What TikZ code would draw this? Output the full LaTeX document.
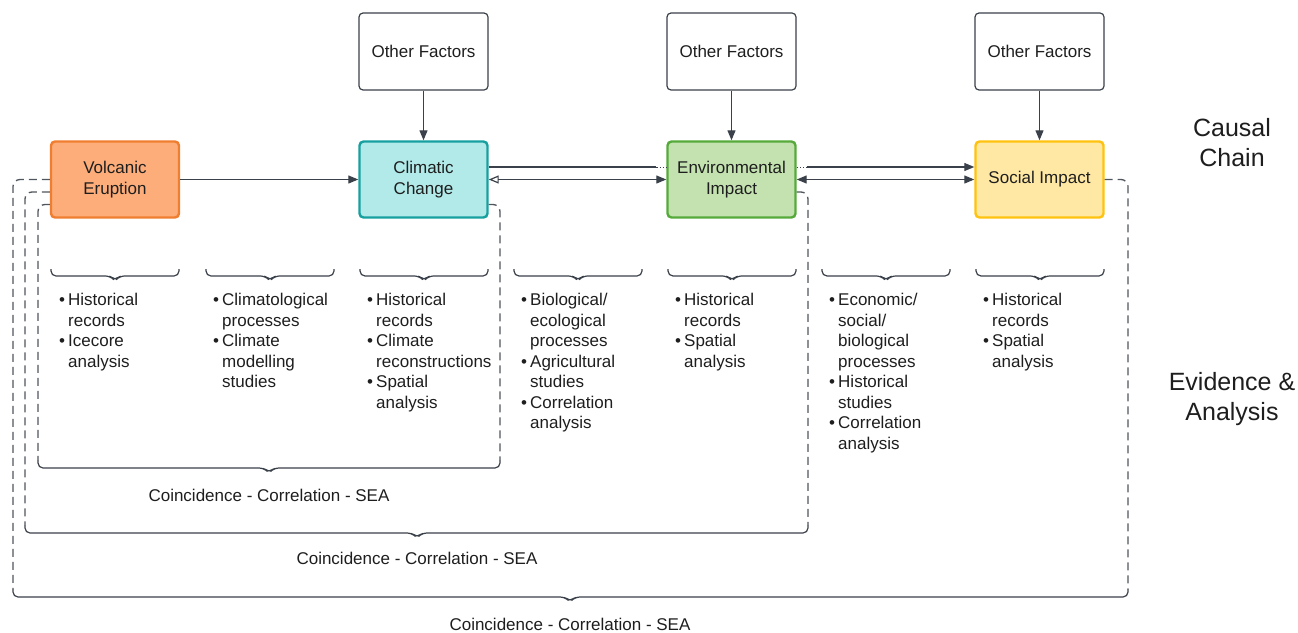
\documentclass[tikz,border=0pt]{standalone}
\usepackage{fontspec}
\setmainfont{Liberation Sans}
\usetikzlibrary{arrows.meta}
\definecolor{ln}{HTML}{3A414A}
\definecolor{dl}{HTML}{50565D}
\definecolor{txt}{HTML}{1E1E1E}
\definecolor{veF}{HTML}{FCAD79}\definecolor{veD}{HTML}{F07E30}
\definecolor{ccF}{HTML}{B2E9E9}\definecolor{ccD}{HTML}{17A0A0}
\definecolor{enF}{HTML}{C3E2B0}\definecolor{enD}{HTML}{55AA3A}
\definecolor{soF}{HTML}{FFE8A3}\definecolor{soD}{HTML}{FFC20E}
\newcommand\bl{\hspace*{-1pt}\makebox[9pt][l]{\textbullet}}
\newcommand\ci{\hspace*{8pt}}
\begin{document}
\begin{tikzpicture}[x=1pt,y=-1pt,
  every node/.style={font=\fontsize{17}{20.5}\selectfont, text=txt},
  box/.style={draw, rounded corners=4pt, minimum width=128pt, minimum height=76pt, line width=2.4pt, align=center, inner sep=0pt},
  ofbox/.style={draw=ln, rounded corners=4pt, minimum width=129pt, minimum height=77pt, line width=1.2pt, align=center, inner sep=0pt},
  conn/.style={draw=ln, line width=1.2pt},
  arr/.style={conn, -{Triangle[length=10pt,width=8pt]}},
  dsh/.style={draw=dl, line width=1.3pt, dash pattern=on 8pt off 5pt, rounded corners=7pt},
  brc/.style={draw=ln, line width=1.2pt, rounded corners=5pt},
  lst/.style={anchor=north west, align=left, inner sep=0pt},
  big/.style={font=\fontsize{25}{30}\selectfont, align=center}
]
\useasboundingbox (0,0) rectangle (1298,632);

% main boxes
\node[box, draw=veD, fill=veF] (ve) at (115,179.5) {Volcanic\\Eruption};
\node[box, draw=ccD, fill=ccF] (cc) at (423.5,179.5) {Climatic\\Change};
\node[box, draw=enD, fill=enF] (en) at (731.5,179.5) {Environmental\\Impact};
\node[box, draw=soD, fill=soF] (so) at (1039.5,179.5) {Social Impact};

% other factors
\node[ofbox] (of1) at (423.5,51.5) {Other Factors};
\node[ofbox] (of2) at (731.5,51.5) {Other Factors};
\node[ofbox] (of3) at (1039.5,51.5) {Other Factors};
\draw[arr] (of1) -- (cc);
\draw[arr] (of2) -- (en);
\draw[arr] (of3) -- (so);

% causal arrows
\draw[arr] (ve) -- (cc);
\draw[conn] ([yshift=12.5pt]cc.east) -- ([xshift=-10pt,yshift=12.5pt]en.west);
\draw[conn, dotted, line width=0.8pt] ([xshift=-10pt,yshift=12.5pt]en.west) -- ([yshift=12.5pt]en.west);
\draw[conn, {Triangle[open,length=10pt,width=8pt]}-{Triangle[length=10pt,width=8pt]}] (cc) -- (en);
\draw[conn, dotted, line width=0.8pt] ([yshift=12.5pt]en.east) -- ([xshift=10pt,yshift=12.5pt]en.east);
\draw[arr] ([xshift=10pt,yshift=12.5pt]en.east) -- ([yshift=12.5pt]so.west);
\draw[conn, {Triangle[length=10pt,width=8pt]}-{Triangle[length=10pt,width=8pt]}] (en) -- (so);

% dashed brackets
\coordinate (bL1) at (13,589);  \coordinate (bR1) at (1128,589);
\coordinate (bL2) at (25,525);  \coordinate (bR2) at (808,525);
\coordinate (bL3) at (38,460);  \coordinate (bR3) at (500,460);
\draw[dsh] (ve.west) -| (bL1);
\draw[dsh] (so.east) -| (bR1);
\draw[dsh] ([yshift=-12.5pt]ve.west) -| (bL2);
\draw[dsh] ([yshift=-12.5pt]en.east) -| (bR2);
\draw[dsh] ([yshift=-25pt]ve.west) -| (bL3);
\draw[dsh] ([yshift=-25pt]cc.east) -| (bR3);

\draw[brc] (bL1) |- (565,597) -- (570,602) -- (575,597) -| (bR1);
\draw[brc] (bL2) |- (412,533) -- (417,538) -- (422,533) -| (bR2);
\draw[brc] (bL3) |- (264,468) -- (269,473) -- (274,468) -| (bR3);

\node (c3) at (269,495) {Coincidence - Correlation - SEA};
\node (c2) at (417,558) {Coincidence - Correlation - SEA};
\node (c1) at (570,624) {Coincidence - Correlation - SEA};

% small braces
\foreach \a in {50,205,359,513,667,821,975}{
  \draw[brc] (\a+1,269) |- (\a+60.5,276) -- (\a+65,281) -- (\a+69.5,276) -| (\a+129,269);
}

% lists
\node[lst] (l1) at (60,293) {\bl Historical\\ \ci records\\ \bl Icecore\\ \ci analysis};
\node[lst] (l2) at (214,293) {\bl Climatological\\ \ci processes\\ \bl Climate\\ \ci modelling\\ \ci studies};
\node[lst] (l3) at (368,293) {\bl Historical\\ \ci records\\ \bl Climate\\ \ci reconstructions\\ \bl Spatial\\ \ci analysis};
\node[lst] (l4) at (522,293) {\bl Biological/\\ \ci ecological\\ \ci processes\\ \bl Agricultural\\ \ci studies\\ \bl Correlation\\ \ci analysis};
\node[lst] (l5) at (676,293) {\bl Historical\\ \ci records\\ \bl Spatial\\ \ci analysis};
\node[lst] (l6) at (830,293) {\bl Economic/\\ \ci social/\\ \ci biological\\ \ci processes\\ \bl Historical\\ \ci studies\\ \bl Correlation\\ \ci analysis};
\node[lst] (l7) at (984,293) {\bl Historical\\ \ci records\\ \bl Spatial\\ \ci analysis};

% side labels
\node[big] (cch) at (1232,143) {Causal\\Chain};
\node[big] (ea) at (1232,399) {Evidence \&\\Analysis};
\end{tikzpicture}
\end{document}
